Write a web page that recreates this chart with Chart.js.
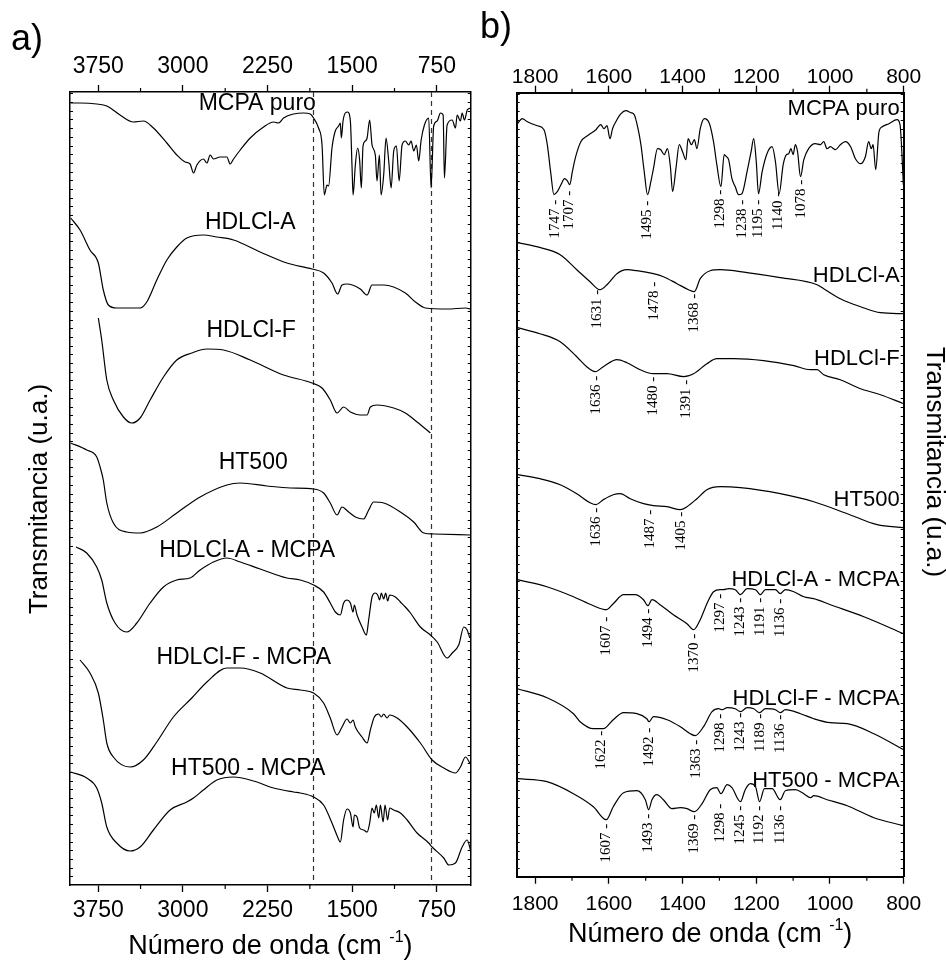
<!DOCTYPE html>
<html>
<head>
<meta charset="utf-8">
<script src="https://cdn.jsdelivr.net/npm/chart.js@4.4.1/dist/chart.umd.min.js"></script>
<style>
  html, body { margin: 0; padding: 0; background: #fff; width: 946px; height: 962px; overflow: hidden; }
  #ca { position: absolute; left: 0; top: 0; }
  #cb { position: absolute; left: 480px; top: 0; }
</style>
</head>
<body>
<canvas id="ca" width="480" height="962"></canvas>
<canvas id="cb" width="466" height="962"></canvas>
<script>
const FONT_SANS = "'Liberation Sans', Arial, Helvetica, sans-serif";
const FONT_SERIF = "'Liberation Serif', 'Times New Roman', serif";

/* ---------- panel a: full range FTIR spectra (wavenumber, transmittance a.u.) ---------- */
const aRange = [450, 4000];
const aTicks = [3750, 3000, 2250, 1500, 750];
const aMinor = [3375, 2625, 1875, 1125];
const aGuides = [1850, 800];

const aMcpaPuro = [[3994,78.2],[3911,78.2],[3763,78.1],[3674,77.9],[3557,77.0],[3439,76.3],[3350,76.4],[3261,75.7],[3142,74.2],[3054,73.0],[2980,72.3],[2936,72.1],[2906,71.2],[2876,72.0],[2818,72.6],[2787,72.2],[2758,73.0],[2729,72.6],[2670,72.8],[2610,72.8],[2581,72.1],[2551,72.6],[2492,73.5],[2403,74.7],[2285,75.8],[2197,76.3],[2152,76.2],[2108,76.7],[2019,77.1],[1931,77.2],[1871,77.1],[1842,76.7],[1798,75.7],[1767,74.0],[1747,69.0],[1723,70.0],[1709,69.9],[1679,73.7],[1650,75.4],[1620,75.9],[1605,76.2],[1596,74.7],[1581,76.4],[1561,77.2],[1540,77.3],[1516,76.4],[1501,71.7],[1492,69.0],[1472,72.0],[1452,73.7],[1434,72.5],[1419,69.7],[1404,73.9],[1383,74.4],[1368,74.7],[1345,76.5],[1324,74.0],[1295,73.0],[1280,70.4],[1259,73.0],[1244,69.0],[1221,71.0],[1200,74.7],[1177,72.5],[1155,69.7],[1132,73.4],[1108,73.9],[1084,70.4],[1058,74.0],[1029,74.4],[999,74.0],[978,74.4],[955,73.4],[931,74.0],[911,72.4],[889,74.5],[860,76.0],[822,76.7],[801,69.7],[778,75.9],[747,76.4],[718,77.2],[694,77.0],[683,70.7],[659,76.0],[614,76.5],[585,75.7],[570,77.0],[541,76.4],[526,77.2],[505,76.5],[481,77.5],[452,77.7]];
const aHdlA = [[3994,66.7],[3911,65.5],[3823,63.5],[3749,62.2],[3705,59.5],[3660,58.0],[3586,57.7],[3379,57.7],[3320,58.3],[3231,60.5],[3142,62.5],[3054,63.8],[2965,64.7],[2818,65.0],[2699,64.8],[2551,64.5],[2315,63.3],[2078,62.2],[1856,61.6],[1753,61.2],[1679,60.2],[1629,59.1],[1590,60.0],[1546,60.1],[1428,59.6],[1368,59.0],[1324,60.0],[1221,60.0],[1029,59.2],[940,58.3],[851,57.7],[659,57.6],[496,57.7],[452,57.6]];
const aHdlF = [[3749,56.7],[3719,54.5],[3674,50.5],[3616,48.5],[3527,46.8],[3453,46.2],[3379,46.7],[3290,48.5],[3172,50.8],[3054,52.5],[2921,53.2],[2787,53.6],[2640,53.5],[2403,52.5],[2108,51.0],[1856,50.2],[1767,49.7],[1694,48.5],[1634,47.2],[1576,47.8],[1516,47.3],[1428,47.0],[1368,47.0],[1339,47.8],[1280,48.0],[1132,47.7],[1029,47.2],[925,46.3],[807,45.2]];
const aHt500 = [[3994,44.2],[3852,43.5],[3763,42.8],[3719,41.2],[3705,40.5],[3674,38.2],[3616,36.2],[3497,35.3],[3379,35.2],[3231,35.8],[3054,37.2],[2847,38.8],[2610,40.0],[2492,40.2],[2255,39.9],[2049,39.7],[1842,39.6],[1753,39.2],[1694,38.2],[1634,37.0],[1590,37.8],[1531,37.3],[1472,36.8],[1398,36.6],[1354,37.5],[1310,38.3],[1221,38.2],[1073,37.3],[955,36.3],[866,35.2],[778,35.1],[452,35.0]];
const aHdlAMcpa = [[3947,33.8],[3852,33.2],[3763,31.8],[3719,30.5],[3674,28.2],[3601,26.2],[3497,25.3],[3408,26.2],[3290,28.2],[3172,29.8],[3054,30.5],[2936,30.7],[2847,31.5],[2729,32.3],[2610,32.7],[2492,32.3],[2315,31.6],[2078,30.7],[1960,30.5],[1842,30.0],[1753,29.3],[1694,28.2],[1649,27.3],[1605,27.0],[1576,28.2],[1546,28.5],[1516,28.2],[1492,27.3],[1481,28.0],[1457,27.0],[1413,25.8],[1374,25.0],[1354,26.5],[1324,28.8],[1295,29.2],[1274,29.0],[1257,28.5],[1242,29.2],[1221,28.6],[1203,29.2],[1186,28.4],[1168,29.0],[1117,28.8],[1073,28.3],[1029,27.8],[984,27.2],[896,25.8],[807,25.0],[747,24.3],[659,22.7],[614,23.2],[556,24.0],[511,25.8],[481,25.5],[458,24.7]];
const aHdlFMcpa = [[3911,22.5],[3823,21.2],[3749,19.2],[3705,16.5],[3674,14.2],[3616,12.8],[3468,11.8],[3350,12.5],[3231,14.3],[3084,16.8],[2921,18.7],[2787,20.3],[2610,21.7],[2492,21.7],[2315,21.2],[2078,19.7],[1960,19.5],[1842,19.2],[1753,18.2],[1694,16.7],[1634,15.0],[1590,15.8],[1546,16.6],[1516,16.2],[1492,16.5],[1472,15.8],[1413,14.8],[1368,14.2],[1339,15.5],[1304,16.8],[1265,17.1],[1241,16.8],[1221,17.1],[1191,16.7],[1168,17.0],[1102,16.7],[1013,15.8],[896,14.2],[792,12.5],[689,11.7],[585,11.2],[541,11.8],[496,12.8],[458,12.2]];
const aHt500Mcpa = [[3994,11.3],[3852,10.7],[3763,9.7],[3719,8.2],[3674,5.8],[3586,4.2],[3468,3.4],[3379,3.8],[3261,5.5],[3113,7.5],[2965,8.3],[2906,8.7],[2818,9.5],[2699,10.5],[2551,10.8],[2374,10.4],[2197,9.7],[2019,9.3],[1960,9.2],[1842,8.8],[1753,8.0],[1679,6.2],[1629,4.8],[1605,4.3],[1576,6.5],[1546,7.6],[1516,7.2],[1492,5.8],[1481,7.0],[1457,6.8],[1434,5.7],[1398,5.5],[1368,5.3],[1345,6.2],[1324,7.7],[1304,7.2],[1286,8.0],[1265,6.7],[1250,8.0],[1226,6.3],[1209,8.0],[1186,6.5],[1168,7.7],[1132,7.5],[1073,7.2],[1013,6.5],[925,5.2],[822,4.2],[792,3.8],[689,2.7],[644,2.0],[585,2.2],[526,3.8],[481,4.5],[452,3.5]];

const seriesNames = ['MCPA puro', 'HDLCl-A', 'HDLCl-F', 'HT500', 'HDLCl-A - MCPA', 'HDLCl-F - MCPA', 'HT500 - MCPA'];
const aNameAt = [[2341,77.5],[2403,65.6],[2395,54.8],[2377,41.6],[2430,32.8],[2461,22.1],[2421,11.0]];

/* ---------- panel b: 1850-800 cm-1 detail ---------- */
const bRange = [800, 1850];
const bTicks = [1800, 1600, 1400, 1200, 1000, 800];
const bMinor = [1700, 1500, 1300, 1100, 900];

const bMcpaPuro = [[1848,75.3],[1835,75.8],[1821,75.5],[1794,75.1],[1776,74.7],[1767,73.2],[1758,70.5],[1749,68.2],[1740,68.5],[1730,69.2],[1720,69.8],[1713,69.6],[1706,69.2],[1699,70.5],[1690,72.0],[1676,73.5],[1658,74.1],[1635,74.7],[1622,75.2],[1613,74.8],[1605,75.1],[1597,73.8],[1590,74.8],[1581,75.5],[1567,76.3],[1554,76.6],[1540,76.4],[1531,76.2],[1522,75.0],[1513,73.2],[1504,70.5],[1495,68.2],[1486,69.5],[1479,70.8],[1468,72.8],[1459,72.7],[1450,72.2],[1441,72.8],[1433,71.0],[1427,68.5],[1418,70.8],[1409,73.2],[1400,72.5],[1391,71.7],[1385,73.8],[1376,73.2],[1368,73.7],[1361,72.8],[1352,74.8],[1341,75.8],[1327,75.3],[1316,73.5],[1307,71.2],[1296,69.0],[1287,72.2],[1281,72.0],[1275,71.7],[1266,69.8],[1257,69.0],[1248,68.2],[1239,68.3],[1225,70.5],[1214,72.5],[1207,73.8],[1200,71.5],[1194,68.3],[1184,70.5],[1171,72.3],[1157,73.0],[1148,71.5],[1138,68.3],[1127,71.2],[1118,72.2],[1112,72.3],[1106,72.8],[1100,72.2],[1094,73.2],[1088,72.5],[1080,70.0],[1071,71.7],[1058,72.8],[1040,73.3],[1026,73.2],[1017,73.5],[1008,72.8],[999,73.0],[985,72.7],[972,73.2],[958,73.5],[944,73.0],[931,71.8],[917,71.3],[904,72.0],[895,73.5],[888,72.8],[883,73.2],[876,70.7],[867,74.5],[858,75.0],[840,75.3],[818,75.7],[810,75.2],[806,73.2],[801,69.2]];
const bHdlA = [[1848,63.4],[1796,63.0],[1732,62.2],[1687,60.7],[1651,59.5],[1624,58.7],[1605,59.2],[1578,60.3],[1551,60.7],[1524,60.6],[1479,60.3],[1452,60.0],[1415,59.3],[1384,58.7],[1368,58.5],[1352,59.8],[1325,60.6],[1298,60.7],[1225,60.4],[1135,59.9],[1035,59.2],[1017,58.8],[972,57.8],[917,57.0],[863,56.4],[800,56.3]];
const bHdlF = [[1848,54.9],[1787,54.3],[1732,53.5],[1687,52.0],[1660,51.0],[1637,50.5],[1615,51.0],[1578,51.7],[1551,51.4],[1515,50.7],[1479,50.3],[1442,50.3],[1397,50.0],[1370,50.3],[1334,51.3],[1307,51.8],[1261,51.8],[1180,51.6],[1098,51.1],[1053,50.7],[1035,50.7],[1017,50.2],[972,49.7],[917,48.8],[863,48.2],[800,47.3]];
const bHt500 = [[1848,40.2],[1787,39.8],[1732,39.2],[1687,38.3],[1651,37.4],[1635,37.2],[1615,37.7],[1588,38.2],[1569,38.3],[1542,37.8],[1506,37.3],[1479,37.1],[1442,37.0],[1406,36.7],[1388,37.0],[1361,37.8],[1334,38.7],[1298,39.0],[1243,38.9],[1135,38.3],[1044,37.5],[953,36.3],[872,35.2],[800,34.9]];
const bHdlAMcpa = [[1848,29.7],[1768,29.0],[1696,28.0],[1642,27.1],[1607,26.7],[1588,27.3],[1560,28.2],[1529,28.2],[1506,27.7],[1494,27.1],[1483,27.7],[1461,27.2],[1425,26.2],[1388,25.3],[1370,24.7],[1352,25.7],[1334,27.3],[1316,28.5],[1298,28.7],[1289,28.7],[1275,28.8],[1257,28.7],[1243,28.2],[1225,28.8],[1202,28.7],[1189,28.2],[1175,28.7],[1148,28.7],[1135,28.3],[1121,28.7],[1098,28.5],[1071,28.0],[1044,27.8],[999,27.2],[908,26.0],[800,24.3]];
const bHdlFMcpa = [[1848,18.8],[1768,17.9],[1696,16.3],[1678,15.5],[1642,14.8],[1615,14.8],[1588,15.7],[1560,16.4],[1524,16.3],[1497,15.8],[1491,15.5],[1479,16.0],[1442,15.7],[1406,15.0],[1379,14.3],[1366,14.1],[1343,15.0],[1320,16.5],[1302,16.8],[1293,16.7],[1279,16.9],[1257,16.8],[1243,16.5],[1225,16.9],[1207,16.8],[1191,16.4],[1175,16.8],[1148,16.7],[1135,16.4],[1121,16.7],[1080,16.3],[1044,15.8],[999,15.4],[953,15.3],[881,14.3],[800,12.7]];
const bHt500Mcpa = [[1848,9.8],[1768,9.5],[1696,8.3],[1642,7.0],[1607,5.7],[1588,7.0],[1560,8.4],[1524,8.6],[1501,7.7],[1492,6.7],[1483,7.7],[1470,8.2],[1452,7.7],[1429,6.8],[1406,6.9],[1388,6.8],[1368,6.5],[1347,7.3],[1325,8.7],[1307,8.9],[1296,8.3],[1279,9.2],[1266,8.9],[1243,7.5],[1230,8.7],[1216,9.3],[1202,9.0],[1191,7.5],[1178,8.8],[1157,8.8],[1135,7.7],[1121,8.6],[1094,8.7],[1071,8.3],[1053,7.9],[1044,8.1],[1008,7.7],[953,7.1],[881,5.9],[800,5.1]];

const bNameAt = [[811,76.2],[811,59.5],[811,51.2],[811,37.1],[811,29.1],[811,17.2],[811,9.0]];

// assigned band positions (cm-1) and the height where each marker starts
const bPeakWn = [
  [1747, 1707, 1495, 1298, 1238, 1195, 1140, 1078],
  [1631, 1478, 1368],
  [1636, 1480, 1391],
  [1636, 1487, 1405],
  [1607, 1494, 1370, 1297, 1243, 1191, 1136],
  [1622, 1492, 1363, 1298, 1243, 1189, 1136],
  [1607, 1493, 1369, 1298, 1245, 1192, 1136]
];
const bPeakY = [
  [67.7, 68.6, 67.6, 68.7, 67.7, 67.7, 68.5, 69.7],
  [58.7, 59.5, 58.3],
  [50.1, 50.0, 49.7],
  [36.9, 36.7, 36.5],
  [26.0, 26.8, 24.3, 28.3, 27.9, 27.9, 27.8],
  [14.6, 14.9, 13.7, 16.3, 16.4, 16.3, 16.2],
  [5.3, 6.3, 6.2, 7.3, 7.1, 7.1, 7.1]
];

/* ---------- helpers ---------- */
function toXY(arr) { return arr.map(p => ({ x: p[0], y: p[1] })); }

function spectrumSets(list) {
  return list.map((arr, i) => ({
    label: seriesNames[i],
    data: toXY(arr),
    borderColor: '#000',
    borderWidth: 1.2,
    pointRadius: 0,
    fill: false,
    tension: 0.4,
    cubicInterpolationMode: 'monotone'
  }));
}

function xAxis(pos, range, ticks, fontSize, pad, boxH, border) {
  return {
    type: 'linear', position: pos, min: range[0], max: range[1], reverse: true,
    afterBuildTicks: s => { s.ticks = ticks.map(v => ({ value: v })); },
    afterFit: s => { s.height = boxH; },
    ticks: {
      autoSkip: false, maxRotation: 0, padding: pad, color: '#000',
      font: { family: FONT_SANS, size: fontSize, lineHeight: 1.2 },
      callback: v => String(v)
    },
    grid: { drawOnChartArea: false, drawTicks: true, tickLength: 7, tickColor: '#000', tickWidth: 1.3 },
    border: { display: true, color: '#000', width: border }
  };
}

function yAxis(pos, yMax, boxW, border) {
  return {
    type: 'linear', position: pos, min: 0, max: yMax,
    afterFit: s => { s.width = boxW; },
    ticks: { display: false },
    grid: { drawOnChartArea: false, drawTicks: false },
    border: { display: true, color: '#000', width: border }
  };
}

function drawWavenumberTitle(ctx, cx, baseY, size) {
  const main = 'Número de onda (cm ', sup = '-1', close = ')';
  const supSize = Math.round(size * 0.6);
  ctx.font = size + 'px ' + FONT_SANS;
  const w1 = ctx.measureText(main).width, w3 = ctx.measureText(close).width;
  ctx.font = supSize + 'px ' + FONT_SANS;
  const w2 = ctx.measureText(sup).width;
  let x = cx - (w1 + w2 + w3) / 2;
  ctx.textAlign = 'left'; ctx.textBaseline = 'alphabetic';
  ctx.font = size + 'px ' + FONT_SANS;
  ctx.fillText(main, x, baseY); x += w1;
  ctx.font = supSize + 'px ' + FONT_SANS;
  ctx.fillText(sup, x, baseY - size * 0.45); x += w2;
  ctx.font = size + 'px ' + FONT_SANS;
  ctx.fillText(close, x, baseY);
}

function line(ctx, x1, y1, x2, y2) { ctx.beginPath(); ctx.moveTo(x1, y1); ctx.lineTo(x2, y2); ctx.stroke(); }

function panelDecor(o) {
  return {
    id: 'decor' + o.tag,
    beforeDatasetsDraw(chart) {
      const { ctx, chartArea: ca, scales: { x } } = chart;
      ctx.save();
      ctx.strokeStyle = '#333'; ctx.lineWidth = 1.2; ctx.setLineDash([5, 4]);
      (o.guides || []).forEach(v => {
        const px = Math.round(x.getPixelForValue(v)) + 0.5;
        line(ctx, px, ca.top, px, ca.bottom);
      });
      ctx.restore();
    },
    afterDraw(chart) {
      const { ctx, chartArea: ca, scales: { x, y } } = chart;
      ctx.save();
      ctx.strokeStyle = '#000'; ctx.lineWidth = 1.2;
      // minor ticks, outward on top and bottom
      o.minor.forEach(v => {
        const px = x.getPixelForValue(v);
        line(ctx, px, ca.top, px, ca.top - o.minorLen);
        line(ctx, px, ca.bottom, px, ca.bottom + o.minorLen);
      });
      // small inward ticks on both vertical edges
      ctx.lineWidth = 1;
      for (let v = o.yStep; v < y.max; v += o.yStep) {
        const py = Math.round(y.getPixelForValue(v)) + 0.5;
        line(ctx, ca.left, py, ca.left + 3, py);
        line(ctx, ca.right, py, ca.right - 3, py);
      }
      // spectrum names
      ctx.fillStyle = '#000';
      ctx.font = o.nameSize + 'px ' + FONT_SANS;
      ctx.textAlign = o.nameAlign; ctx.textBaseline = 'alphabetic';
      seriesNames.forEach((n, i) => {
        ctx.fillText(n, x.getPixelForValue(o.nameAt[i][0]), y.getPixelForValue(o.nameAt[i][1]));
      });
      // band markers: rotated numbers ending in a short dash
      if (o.peaksWn) {
        ctx.font = '15px ' + FONT_SERIF;
        ctx.textAlign = 'right'; ctx.textBaseline = 'middle';
        o.peaksWn.forEach((list, s) => {
          list.forEach((wn, k) => {
            ctx.save();
            ctx.translate(x.getPixelForValue(wn), y.getPixelForValue(o.peaksY[s][k]));
            ctx.rotate(-Math.PI / 2);
            ctx.fillText(wn + ' -', 0, 0);
            ctx.restore();
          });
        });
      }
      // panel letter
      ctx.font = '36px ' + FONT_SANS;
      ctx.textAlign = 'left'; ctx.textBaseline = 'alphabetic';
      ctx.fillText(o.letter, o.letterX, o.letterY);
      // x-axis title
      drawWavenumberTitle(ctx, (ca.left + ca.right) / 2, ca.bottom + o.titleDrop, o.titleSize);
      // y-axis title
      ctx.save();
      ctx.font = '26px ' + FONT_SANS;
      ctx.textAlign = 'center'; ctx.textBaseline = 'middle';
      ctx.translate(o.yTitleX, o.yTitleY);
      ctx.rotate(o.yTitleRot);
      ctx.fillText('Transmitancia (u.a.)', 0, 0);
      ctx.restore();
      ctx.restore();
    }
  };
}

/* ---------- panel a ---------- */
new Chart(document.getElementById('ca'), {
  type: 'line',
  data: { datasets: spectrumSets([aMcpaPuro, aHdlA, aHdlF, aHt500, aHdlAMcpa, aHdlFMcpa, aHt500Mcpa]) },
  options: {
    responsive: false, animation: false, devicePixelRatio: 1,
    layout: { padding: 0 },
    plugins: { legend: { display: false }, tooltip: { enabled: false } },
    scales: {
      x: xAxis('bottom', aRange, aTicks, 23, 5, 77, 1.5),
      x2: xAxis('top', aRange, aTicks, 23, 5, 92, 1.5),
      y: yAxis('left', 79.3, 70, 1.5),
      y2: yAxis('right', 79.3, 9.3, 1.5)
    }
  },
  plugins: [panelDecor({
    tag: 'A', guides: aGuides, minor: aMinor, minorLen: 4, yStep: 0.87,
    nameAt: aNameAt, nameSize: 23, nameAlign: 'center',
    letter: 'a)', letterX: 11, letterY: 50,
    titleDrop: 69, titleSize: 27,
    yTitleX: 40, yTitleY: 499, yTitleRot: -Math.PI / 2
  })]
});

/* ---------- panel b ---------- */
new Chart(document.getElementById('cb'), {
  type: 'line',
  data: { datasets: spectrumSets([bMcpaPuro, bHdlA, bHdlF, bHt500, bHdlAMcpa, bHdlFMcpa, bHt500Mcpa]) },
  options: {
    responsive: false, animation: false, devicePixelRatio: 1,
    layout: { padding: 0 },
    plugins: { legend: { display: false }, tooltip: { enabled: false } },
    scales: {
      x: xAxis('bottom', bRange, bTicks, 21, 8, 85.3, 2),
      x2: xAxis('top', bRange, bTicks, 21, -4, 92.7, 2),
      y: yAxis('left', 78.4, 36.7, 2),
      y2: yAxis('right', 78.4, 42.3, 2)
    }
  },
  plugins: [panelDecor({
    tag: 'B', minor: bMinor, minorLen: 4, yStep: 0.87,
    nameAt: bNameAt, nameSize: 22, nameAlign: 'right',
    peaksWn: bPeakWn, peaksY: bPeakY,
    letter: 'b)', letterX: 0, letterY: 38,
    titleDrop: 65, titleSize: 27,
    yTitleX: 454, yTitleY: 462, yTitleRot: Math.PI / 2
  })]
});
</script>
</body>
</html>
